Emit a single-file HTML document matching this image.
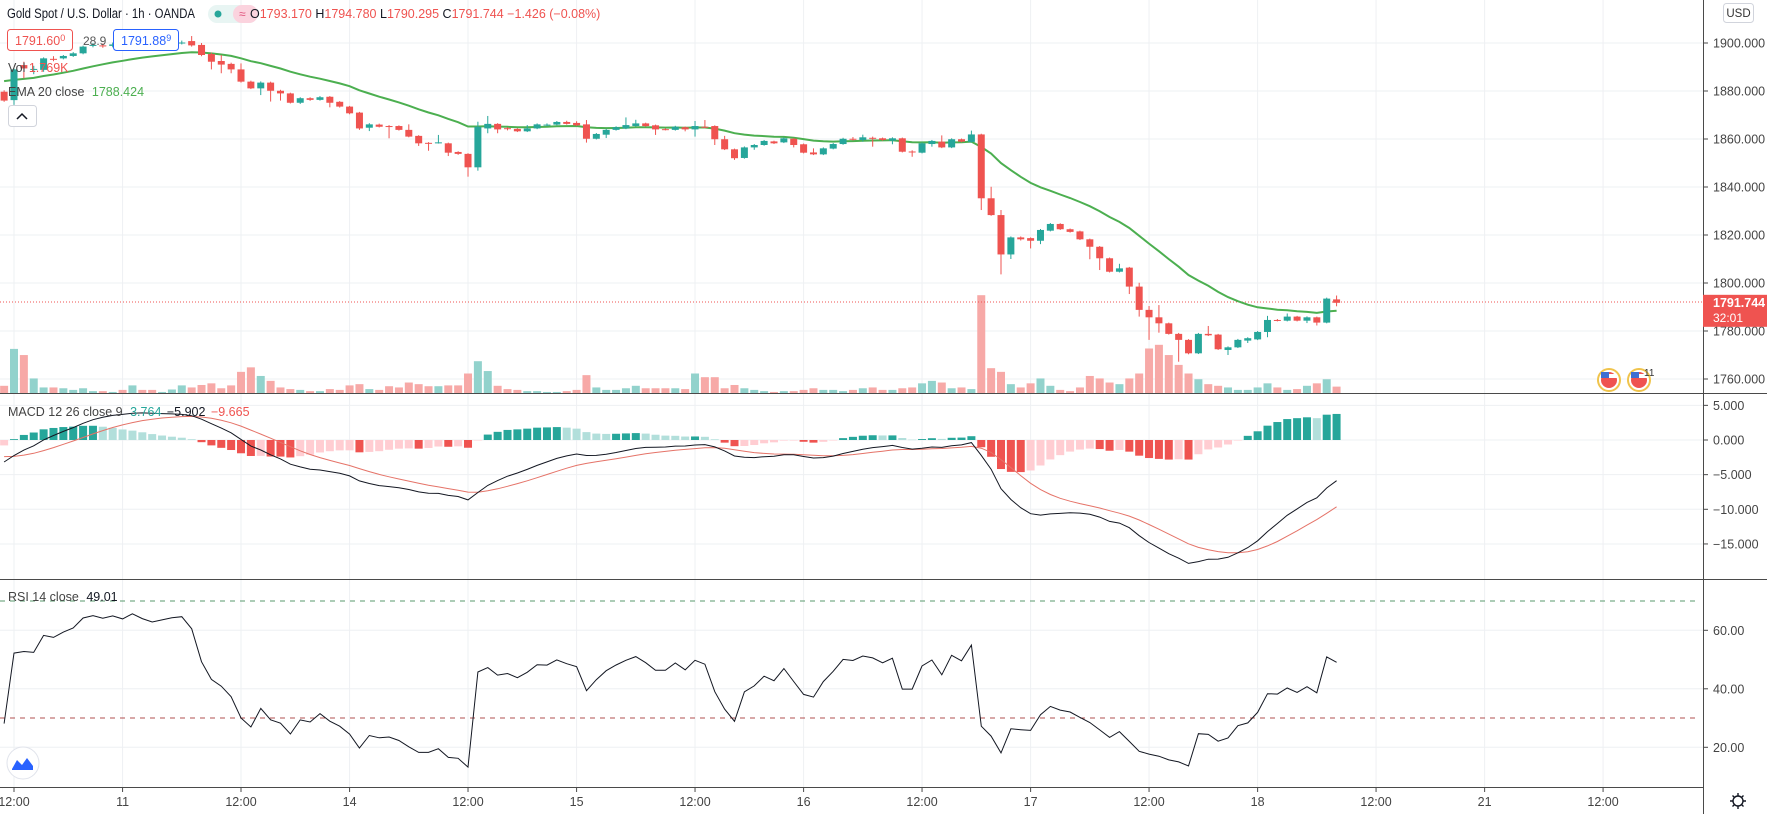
<!DOCTYPE html>
<html><head><meta charset="utf-8"><style>
html,body{margin:0;padding:0;background:#fff;}
svg{display:block;font-family:"Liberation Sans",sans-serif;}
</style></head><body>
<svg id="chart" width="1767" height="814" viewBox="0 0 1767 814" xmlns="http://www.w3.org/2000/svg">
<rect x="0" y="0" width="1767" height="814" fill="#ffffff"/>
<g id="grid"></g>
<g id="vol"></g>
<line x1="0" y1="302" x2="1703" y2="302" stroke="#ef5350" stroke-width="1" stroke-dasharray="1,2"/>
<g id="ema"></g>
<g id="candles"></g>
<g id="macd"></g>
<g id="rsi"></g>
<g id="axes"></g>

<text x="7" y="18" font-size="13.5" fill="#131722" textLength="188" lengthAdjust="spacingAndGlyphs">Gold Spot / U.S. Dollar · 1h · OANDA</text>
<rect x="208" y="5" width="50" height="18" rx="9" fill="#e8f5f3"/>
<rect x="233" y="5" width="25" height="18" rx="9" fill="#fbd3de"/>
<circle cx="218" cy="14" r="3.5" fill="#26a69a"/>
<text x="239" y="18" font-size="12" fill="#e0507a">≈</text>
<text x="250" y="18" font-size="12.5" fill="#ef5350"><tspan fill="#131722">O</tspan>1793.170 <tspan fill="#131722">H</tspan>1794.780 <tspan fill="#131722">L</tspan>1790.295 <tspan fill="#131722">C</tspan>1791.744 −1.426 (−0.08%)</text>
<rect x="7.5" y="29.5" width="65" height="21" rx="3" fill="#fff" stroke="#ef5350"/>
<text x="15" y="45" font-size="12.5" fill="#ef5350">1791.60<tspan font-size="9" dy="-4">0</tspan></text>
<text x="83" y="45" font-size="12" fill="#555">28.9</text>
<rect x="113.5" y="29.5" width="65" height="21" rx="3" fill="#fff" stroke="#2962ff"/>
<text x="121" y="45" font-size="12.5" fill="#2962ff">1791.88<tspan font-size="9" dy="-4">9</tspan></text>
<text x="8" y="72" font-size="12.5" fill="#444">Vol <tspan fill="#ef5350">1.769K</tspan></text>
<text x="8" y="96" font-size="12.5" fill="#444">EMA 20 close <tspan fill="#4caf50" dx="4">1788.424</tspan></text>
<rect x="8.5" y="105.5" width="28" height="21" rx="3" fill="#fff" stroke="#d1d4dc"/>
<path d="M17 119 L22 114 L27 119" fill="none" stroke="#131722" stroke-width="1.5"/>
<text x="8" y="416" font-size="12.5" fill="#444">MACD 12 26 close 9 <tspan fill="#26a69a" dx="4">3.764</tspan> <tspan fill="#131722" dx="2">−5.902</tspan> <tspan fill="#ef5350" dx="2">−9.665</tspan></text>
<text x="8" y="601" font-size="12.5" fill="#444">RSI 14 close <tspan fill="#131722" dx="4">49.01</tspan></text>
<rect x="1723.5" y="3.5" width="30" height="19" rx="3" fill="#fff" stroke="#d1d4dc"/>
<text x="1738.5" y="17" font-size="11.5" fill="#333" text-anchor="middle">USD</text>
<g><circle cx="1609" cy="380" r="11" fill="#fff" stroke="#f0c44c" stroke-width="2"/><circle cx="1609" cy="380" r="8" fill="#ef5350"/><rect x="1601" y="374" width="16" height="4" fill="#fff"/><rect x="1601" y="372" width="8" height="6" fill="#3f6fd1"/></g>
<g><circle cx="1639" cy="380" r="11" fill="#fff" stroke="#f0c44c" stroke-width="2"/><circle cx="1639" cy="380" r="8" fill="#ef5350"/><rect x="1631" y="374" width="16" height="4" fill="#fff"/><rect x="1631" y="372" width="8" height="6" fill="#3f6fd1"/><text x="1644" y="376" font-size="10" fill="#333">11</text></g>
<g><circle cx="23" cy="763" r="16" fill="#fff" stroke="#e0e3eb"/><path d="M12 769 L17 760 L22 765 L27 758 L33 766 L33 770 L12 770 Z" fill="#2962ff"/></g>
<g><circle cx="1738" cy="801" r="5" fill="none" stroke="#131722" stroke-width="1.4"/><path d="M1738 793v3M1738 806v3M1730 801h3M1743 801h3M1732.5 795.5l2 2M1741.5 804.5l2 2M1732.5 806.5l2-2M1741.5 797.5l2-2" stroke="#131722" stroke-width="1.4"/></g>
</svg>
<script>
const opens=[1879.7,1876.2,1890.8,1889.0,1888.8,1893.4,1893.6,1894.6,1895.7,1898.8,
1899.0,1898.8,1899.4,1899.0,1900.2,1899.6,1899.2,1899.6,1900.0,1900.8,
1899.2,1895.4,1892.5,1891.3,1889.0,1883.9,1881.1,1883.5,1880.1,1879.0,
1875.1,1877.0,1876.3,1877.6,1875.5,1873.5,1871.0,1864.7,1866.0,1865.4,
1865.4,1863.8,1861.3,1858.4,1858.4,1858.2,1854.6,1853.8,1848.2,1864.4,
1866.3,1864.5,1864.2,1863.2,1864.4,1865.8,1866.0,1867.1,1866.7,1866.1,
1860.1,1861.8,1863.8,1864.4,1865.4,1866.5,1865.7,1864.1,1863.8,1864.9,
1864.0,1865.1,1865.4,1859.9,1855.7,1852.1,1856.5,1857.5,1859.0,1858.6,
1860.1,1857.8,1854.4,1853.6,1856.0,1857.9,1860.1,1859.6,1860.5,1860.3,
1859.3,1860.3,1854.8,1854.3,1857.9,1858.9,1856.5,1859.9,1858.8,1861.9,
1835.3,1828.3,1811.9,1819.0,1818.7,1817.6,1821.8,1824.6,1822.4,1821.5,
1818.2,1815.1,1810.3,1804.7,1806.4,1798.5,1788.8,1785.7,1783.2,1778.8,
1776.3,1770.7,1778.8,1778.5,1772.1,1773.2,1776.0,1776.5,1779.6,1784.6,
1784.3,1786.0,1784.3,1785.7,1783.5,1793.17];
const closes=[1876.0,1889.0,1889.4,1889.2,1893.6,1893.2,1894.6,1895.7,1898.5,1899.2,
1898.8,1899.4,1899.0,1900.2,1899.6,1899.2,1899.6,1900.0,1900.2,1899.0,
1895.0,1892.2,1891.0,1889.0,1883.9,1881.1,1883.5,1880.1,1879.0,1875.1,
1877.0,1876.3,1877.4,1875.1,1873.5,1870.7,1864.4,1866.1,1865.1,1865.2,
1863.8,1861.0,1858.2,1858.2,1858.6,1854.3,1853.8,1848.2,1865.1,1866.3,
1864.0,1864.4,1863.2,1864.4,1866.1,1866.0,1867.1,1866.3,1865.7,1860.1,
1862.1,1863.8,1864.9,1865.8,1866.5,1865.4,1864.0,1864.0,1865.1,1864.0,
1865.4,1864.8,1859.9,1855.7,1852.0,1856.5,1857.5,1859.2,1858.2,1860.3,
1857.5,1854.3,1853.6,1856.1,1857.9,1860.1,1859.9,1860.7,1860.4,1859.6,
1860.3,1854.7,1854.7,1858.2,1859.2,1856.5,1859.9,1858.9,1861.9,1835.3,
1828.3,1811.9,1819.0,1818.2,1817.6,1822.1,1824.6,1822.4,1821.3,1818.2,
1815.1,1810.3,1804.7,1806.1,1798.5,1788.8,1785.7,1783.2,1778.8,1776.3,
1770.7,1778.8,1778.2,1772.4,1773.2,1776.3,1777.0,1779.6,1784.6,1784.4,
1786.0,1784.3,1785.7,1783.5,1793.5,1791.744];
const highs=[1880.3,1889.4,1892.2,1890.5,1894.0,1894.5,1895.0,1896.2,1898.9,1900.0,
1899.8,1900.2,1900.0,1900.8,1900.9,1900.3,1900.2,1900.6,1901.0,1902.9,
1900.0,1896.0,1895.0,1891.8,1891.5,1884.3,1884.0,1883.9,1880.5,1879.3,
1877.4,1877.4,1877.9,1877.9,1875.8,1873.8,1871.3,1866.6,1866.4,1865.8,
1865.7,1866.1,1861.6,1858.7,1861.7,1858.5,1854.9,1854.1,1867.2,1869.6,
1866.6,1864.9,1864.5,1865.8,1866.5,1866.5,1867.5,1867.6,1867.4,1867.9,
1862.5,1864.2,1865.3,1869.0,1868.0,1866.8,1866.0,1864.5,1865.5,1865.2,
1867.5,1867.9,1865.7,1861.3,1856.0,1856.9,1857.9,1859.6,1859.3,1860.7,
1860.4,1858.1,1856.1,1856.5,1858.3,1860.5,1860.8,1861.8,1861.0,1860.6,
1860.7,1860.6,1855.3,1858.6,1859.6,1861.5,1860.3,1860.2,1863.5,1862.2,
1840.1,1830.4,1819.4,1819.4,1819.0,1822.5,1825.0,1824.9,1822.7,1821.8,
1818.5,1815.4,1810.6,1808.0,1806.7,1800.1,1790.4,1790.8,1783.5,1779.2,
1776.6,1779.2,1782.1,1778.8,1773.6,1776.7,1777.4,1780.0,1786.3,1785.0,
1787.3,1786.3,1786.1,1786.0,1793.9,1794.78];
const lows=[1875.5,1874.2,1885.3,1887.0,1888.0,1892.4,1893.2,1894.2,1895.3,1898.2,
1898.0,1898.2,1898.4,1898.6,1899.0,1898.5,1898.8,1899.0,1899.4,1898.5,
1894.5,1889.0,1887.4,1887.4,1883.5,1880.8,1878.3,1875.6,1876.0,1874.8,
1874.6,1875.9,1876.0,1873.2,1873.1,1870.3,1863.8,1863.3,1864.8,1860.3,
1863.5,1860.7,1857.1,1855.1,1858.1,1852.9,1853.4,1844.3,1846.8,1862.4,
1862.4,1863.6,1862.9,1862.9,1864.1,1865.4,1865.7,1866.0,1865.4,1858.5,
1859.8,1860.4,1863.5,1864.1,1865.1,1865.1,1861.7,1863.6,1863.5,1863.2,
1861.0,1864.5,1857.5,1855.4,1851.3,1851.8,1855.5,1857.2,1857.9,1858.3,
1856.5,1854.0,1853.3,1853.3,1855.7,1857.6,1859.4,1858.9,1856.8,1859.3,
1857.8,1854.4,1852.6,1854.0,1856.8,1856.2,1856.2,1858.6,1858.5,1830.4,
1828.0,1803.6,1810.0,1817.7,1814.4,1816.2,1821.5,1822.1,1821.0,1817.9,
1809.9,1805.4,1804.4,1804.4,1795.4,1786.0,1776.3,1779.3,1778.5,1767.2,
1770.3,1770.4,1777.9,1772.1,1770.0,1772.9,1775.0,1776.2,1777.4,1784.0,
1784.0,1784.0,1783.3,1782.3,1783.2,1790.295];
const volumes=[2.0,11.0,9.5,3.8,1.6,1.6,1.4,1.0,1.4,0.7,
0.7,0.5,1.0,2.1,1.0,1.0,0.5,1.1,2.1,1.6,
2.2,2.6,1.4,2.1,5.4,6.5,4.4,3.2,1.6,1.2,
1.0,0.7,0.7,1.2,1.0,2.1,2.4,1.2,1.0,1.9,
1.6,2.8,2.4,1.9,1.9,2.1,2.1,5.0,8.0,5.6,
2.0,1.2,1.0,0.7,0.7,0.5,0.5,0.7,1.0,4.6,
1.6,1.0,1.0,1.4,2.0,1.4,1.4,1.4,1.4,1.2,
5.0,4.1,4.1,1.4,2.2,1.4,1.0,0.7,0.5,0.7,
0.7,1.0,1.4,1.0,1.0,0.7,1.0,1.4,1.6,1.0,
1.0,1.4,1.6,2.6,3.2,2.8,1.4,1.6,1.2,24.1,
6.3,5.4,2.4,1.6,2.6,3.8,2.0,1.0,0.7,1.6,
4.4,3.8,2.8,2.4,3.8,5.0,11.1,12.0,9.5,7.1,
5.0,3.6,2.4,2.0,1.6,1.0,1.0,1.6,2.6,1.6,
1.0,1.2,2.0,2.6,3.6,1.8];
const priceTicks=[1900,1880,1860,1840,1820,1800,1780,1760];
const macdTicks=[5,0,-5,-10,-15];
const rsiTicks=[60,40,20];
const timeLabels=["12:00","11","12:00","14","12:00","15","12:00","16","12:00","17","12:00","18","12:00","21","12:00"];
const timeLabelBars=[1,12,24,35,47,58,70,81,93,104,116,127,139,150,162];
const emaSeeds=[1885,1881,1884,-2.2];
const rsiSeeds=[0.6,1.25];

const NS="http://www.w3.org/2000/svg";
const AX=1703;
const xB=i=>4.13+i*9.87;
const yP=p=>43+(1900-p)*2.4;
const yM=v=>440-v*6.93;
const yR=v=>747.3-(v-20)*2.925;
const yV=v=>394-v*4.1;
function mk(tag,attrs,parent){const e=document.createElementNS(NS,tag);for(const k in attrs)e.setAttribute(k,attrs[k]);parent.appendChild(e);return e;}
const G=id=>document.getElementById(id);
const n=closes.length;

const grid=G('grid');
priceTicks.forEach(p=>{const l=mk('line',{x1:0,x2:AX,y1:yP(p),y2:yP(p),stroke:'#eef0f3'},grid);

});
macdTicks.forEach(v=>{const l=mk('line',{x1:0,x2:AX,y1:yM(v),y2:yM(v),stroke:'#eef0f3'},grid);

});
rsiTicks.forEach(v=>{const l=mk('line',{x1:0,x2:AX,y1:yR(v),y2:yR(v),stroke:'#eef0f3'},grid);

});
timeLabelBars.forEach(b=>{const l=mk('line',{x1:xB(b),x2:xB(b),y1:0,y2:787,stroke:'#eef0f3'},grid);

});

const vg=G('vol');
for(let i=0;i<n;i++){const up=closes[i]>=opens[i];
const r=mk('rect',{x:xB(i)-4,y:yV(volumes[i]),width:8,height:394-yV(volumes[i]),fill:up?'#92d2cc':'#f7a9a7'},vg);

}

let e20=emaSeeds[0],e12=emaSeeds[1],e26=emaSeeds[2],sig=emaSeeds[3];
let ag=rsiSeeds[0],al=rsiSeeds[1];
const ema=[],macd=[],signal=[],hist=[],rsi=[];
for(let i=0;i<n;i++){const c=closes[i];
e20+= (c-e20)*2/21; e12+=(c-e12)*2/13; e26+=(c-e26)*2/27;
const m=e12-e26; sig+=(m-sig)*0.2;
ema.push(e20); macd.push(m); signal.push(sig); hist.push(m-sig);
const ch=c-(i?closes[i-1]:opens[0]);
ag=(ag*13+Math.max(ch,0))/14; al=(al*13+Math.max(-ch,0))/14;
rsi.push(100-100/(1+ag/al));}
const emaPath=mk('path',{d:ema.map((v,i)=>(i?'L':'M')+xB(i).toFixed(1)+' '+yP(v).toFixed(1)).join(''),fill:'none',stroke:'#4caf50','stroke-width':2},G('ema'));



const cg=G('candles');
for(let i=0;i<n;i++){const up=closes[i]>=opens[i];const col=up?'#26a69a':'#ef5350';const x=xB(i);
const w=mk('line',{x1:x,x2:x,y1:yP(highs[i]),y2:yP(lows[i]),stroke:col,'stroke-width':1},cg);


const t=Math.min(yP(opens[i]),yP(closes[i]));const h=Math.max(1,Math.abs(yP(opens[i])-yP(closes[i])));
const b=mk('rect',{x:x-3.5,y:t,width:7,height:h,fill:col},cg);

}

const mg=G('macd');
for(let i=0;i<n;i++){const h=hist[i],p=i?hist[i-1]:h;let col;
if(h>=0)col=h>=p?'#26a69a':'#b2dfdb';else col=h<p?'#ef5350':'#ffcdd2';
const y0=yM(0),y1=yM(h);
const r=mk('rect',{x:xB(i)-4,y:Math.min(y0,y1),width:8,height:Math.max(0.5,Math.abs(y1-y0)),fill:col},mg);

}
const sp=mk('path',{d:signal.map((v,i)=>(i?'L':'M')+xB(i).toFixed(1)+' '+yM(v).toFixed(1)).join(''),fill:'none',stroke:'#e57368','stroke-width':1},mg);


const mp=mk('path',{d:macd.map((v,i)=>(i?'L':'M')+xB(i).toFixed(1)+' '+yM(v).toFixed(1)).join(''),fill:'none',stroke:'#131722','stroke-width':1},mg);



const rg=G('rsi');
const l70=mk('line',{x1:0,x2:1700,y1:yR(70),y2:yR(70),stroke:'#5a9a6e','stroke-dasharray':'5,5'},rg);


const l30=mk('line',{x1:0,x2:1700,y1:yR(30),y2:yR(30),stroke:'#b05050','stroke-dasharray':'5,5'},rg);


const rp=mk('path',{d:rsi.map((v,i)=>(i?'L':'M')+xB(i).toFixed(1)+' '+yR(v).toFixed(1)).join(''),fill:'none',stroke:'#131722','stroke-width':1},rg);



const ag2=G('axes');
[[0,393.5,1767,393.5],[0,579.5,1767,579.5],[0,787.5,1703,787.5],[AX+0.5,0,AX+0.5,814]].forEach(a=>{
const l=mk('line',{x1:a[0],y1:a[1],x2:a[2],y2:a[3],stroke:'#4a4a4a','stroke-width':1},ag2);

});
function tick(y,label,name){const l=mk('line',{x1:AX,x2:AX+5,y1:y,y2:y,stroke:'#4a4a4a'},ag2);


const t=mk('text',{x:AX+10,y:y+4.5,'font-size':12.5,fill:'#444'},ag2);t.textContent=label;

}
priceTicks.forEach(p=>tick(yP(p),p.toFixed(3),'price-axis'));
macdTicks.forEach(v=>tick(yM(v),(v<0?'−':'')+Math.abs(v).toFixed(3),'macd-axis'));
rsiTicks.forEach(v=>tick(yR(v),v.toFixed(2),'rsi-axis'));
timeLabels.forEach((s,k)=>{const x=xB(timeLabelBars[k]);
const l=mk('line',{x1:x,x2:x,y1:787,y2:792,stroke:'#4a4a4a'},ag2);


const t=mk('text',{x:x,y:806,'font-size':12.5,fill:'#444','text-anchor':'middle'},ag2);t.textContent=s;

});
const lp=closes[n-1];
const lr=mk('rect',{x:AX,y:yP(lp)-8,width:64,height:32,fill:'#ef5350'},ag2);


const lt=mk('text',{x:AX+10,y:yP(lp)+4,'font-size':12.5,'font-weight':'bold',fill:'#fff'},ag2);lt.textContent=lp.toFixed(3);


const ct=mk('text',{x:AX+10,y:yP(lp)+19,'font-size':12,fill:'#fff'},ag2);ct.textContent='32:01';


</script>
</body></html>
